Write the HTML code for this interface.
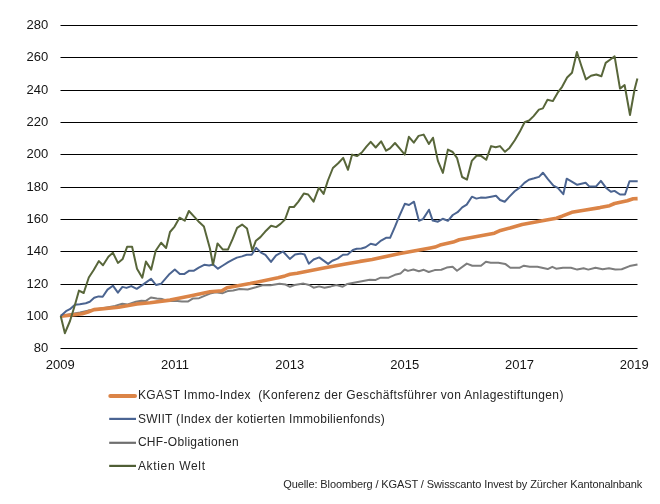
<!DOCTYPE html>
<html><head><meta charset="utf-8"><style>
html,body{margin:0;padding:0;background:#fff;width:660px;height:504px;overflow:hidden}
svg{display:block;will-change:transform}
text{font-family:"Liberation Sans",sans-serif;fill:#262626}
.ax{font-size:13px;fill:#141414}
.lg{font-size:12px}
.src{font-size:11px}
</style></head><body>
<svg width="660" height="504" viewBox="0 0 660 504">
<rect width="660" height="504" fill="#fff"/>
<rect x="60.5" y="25" width="577" height="1" fill="#000"/>
<rect x="60.5" y="57" width="577" height="1" fill="#000"/>
<rect x="60.5" y="90" width="577" height="1" fill="#000"/>
<rect x="60.5" y="122" width="577" height="1" fill="#000"/>
<rect x="60.5" y="154" width="577" height="1" fill="#000"/>
<rect x="60.5" y="187" width="577" height="1" fill="#000"/>
<rect x="60.5" y="219" width="577" height="1" fill="#000"/>
<rect x="60.5" y="251" width="577" height="1" fill="#000"/>
<rect x="60.5" y="284" width="577" height="1" fill="#000"/>
<rect x="60.5" y="316" width="577" height="1" fill="#000"/>
<rect x="60.5" y="348" width="577" height="1" fill="#000"/>
<text x="48.3" y="29.0" text-anchor="end" class="ax">280</text>
<text x="48.3" y="61.0" text-anchor="end" class="ax">260</text>
<text x="48.3" y="94.0" text-anchor="end" class="ax">240</text>
<text x="48.3" y="126.0" text-anchor="end" class="ax">220</text>
<text x="48.3" y="158.0" text-anchor="end" class="ax">200</text>
<text x="48.3" y="191.0" text-anchor="end" class="ax">180</text>
<text x="48.3" y="223.0" text-anchor="end" class="ax">160</text>
<text x="48.3" y="255.0" text-anchor="end" class="ax">140</text>
<text x="48.3" y="288.0" text-anchor="end" class="ax">120</text>
<text x="48.3" y="320.0" text-anchor="end" class="ax">100</text>
<text x="48.3" y="352.0" text-anchor="end" class="ax">80</text>
<text x="60.2" y="369" text-anchor="middle" class="ax">2009</text>
<text x="175.0" y="369" text-anchor="middle" class="ax">2011</text>
<text x="289.8" y="369" text-anchor="middle" class="ax">2013</text>
<text x="404.7" y="369" text-anchor="middle" class="ax">2015</text>
<text x="519.5" y="369" text-anchor="middle" class="ax">2017</text>
<text x="634.3" y="369" text-anchor="middle" class="ax">2019</text>
<polyline points="60.7,316.0 70.0,314.2 80.0,312.5 88.0,310.6 98.0,309.0 107.0,307.4 115.0,305.9 122.3,303.8 127.7,304.4 135.9,301.8 141.4,300.7 145.9,300.9 150.9,297.5 156.8,298.6 162.3,299.1 169.5,301.1 175.0,300.8 181.8,301.4 188.2,301.4 192.7,298.6 199.1,298.2 204.5,295.9 210.0,293.6 215.5,292.3 222.7,293.2 228.2,290.9 233.2,290.5 239.5,289.1 247.7,289.5 255.9,287.3 263.2,285.0 270.5,285.3 279.5,283.8 285.5,284.5 290.0,286.8 294.5,285.0 303.6,283.6 309.1,285.0 313.6,287.7 319.1,286.4 324.5,287.7 330.9,286.4 336.4,285.0 342.7,286.7 347.4,283.9 353.8,282.7 361.8,281.2 369.7,279.7 375.7,279.9 380.6,277.7 388.6,277.7 395.0,274.8 400.4,273.6 404.7,269.5 408.0,270.9 413.4,269.5 418.9,271.2 423.8,269.8 428.7,272.0 434.7,270.1 441.3,269.8 446.7,267.6 452.6,266.7 457.0,270.7 466.8,263.6 472.3,265.8 481.0,265.8 485.9,261.7 490.8,262.7 498.4,262.7 505.2,263.9 510.3,267.8 519.4,267.8 523.9,265.7 529.7,266.8 537.4,266.8 547.7,269.1 552.3,266.8 556.1,268.7 562.9,267.7 570.9,267.7 577.2,269.6 583.6,268.3 588.3,269.6 595.5,267.7 602.6,269.3 609.0,268.3 615.3,269.6 621.7,269.3 629.6,266.1 637.5,264.5" fill="none" stroke="#7D7D7D" stroke-width="2" stroke-linejoin="round"/>
<polyline points="60.8,316.1 70.0,315.2 82.2,313.8 88.0,312.0 94.0,309.6 118.6,307.2 137.0,303.9 150.0,302.8 170.0,300.1 190.0,296.0 210.0,291.7 222.0,290.8 227.0,287.7 250.0,283.6 278.0,277.8 285.0,275.9 290.0,274.3 297.1,273.2 325.0,267.8 345.6,264.1 360.0,261.4 372.1,259.5 400.0,253.4 430.3,248.0 435.0,247.1 440.0,245.1 453.2,242.1 459.2,239.8 494.4,233.2 500.5,230.4 510.0,228.0 522.1,224.4 546.4,220.0 556.4,218.2 562.0,216.2 571.8,212.3 585.5,210.0 600.0,207.6 609.6,205.7 614.5,203.5 627.3,200.8 633.2,198.8 637.6,198.6" fill="none" stroke="#DB8447" stroke-width="3.6" stroke-linejoin="round" stroke-linecap="butt"/>
<polyline points="60.7,315.9 66.0,311.2 69.9,309.2 74.9,304.7 79.8,304.2 85.8,303.2 89.8,301.7 94.2,297.8 98.6,296.4 102.7,296.8 107.5,289.6 112.9,285.7 117.9,292.6 122.4,286.9 126.5,287.9 131.3,286.1 136.7,288.8 142.6,284.9 146.8,281.9 151.1,278.8 156.0,285.0 161.0,283.8 165.5,278.7 169.6,273.9 174.8,269.5 179.8,273.9 184.5,273.9 189.3,270.7 194.0,270.7 198.8,267.6 204.2,264.8 209.2,265.5 213.1,264.5 217.9,268.7 222.9,265.5 228.2,262.1 232.4,259.8 236.9,257.6 241.9,256.4 246.7,254.8 251.7,254.8 256.2,247.9 261.0,252.6 265.4,254.8 271.0,261.9 276.1,255.4 283.0,251.5 289.8,258.9 295.1,254.5 301.1,253.6 304.6,254.5 308.8,263.7 313.6,259.5 319.2,257.4 323.3,260.4 328.1,263.9 332.3,260.7 337.6,258.6 343.0,254.8 347.7,254.4 352.9,250.0 356.7,248.8 361.4,248.5 365.6,247.3 370.7,243.7 375.8,245.0 381.1,240.6 386.0,237.8 390.1,237.8 395.0,226.7 399.2,216.3 404.8,203.8 409.0,205.0 414.0,201.7 418.9,220.7 423.0,219.1 429.0,209.7 432.7,220.6 437.9,221.7 442.7,218.8 447.9,220.8 452.8,215.0 457.6,212.2 462.2,207.4 466.7,204.6 471.9,196.7 476.4,198.6 480.6,197.6 485.6,197.8 491.1,196.8 496.0,195.8 500.1,200.0 504.7,201.7 509.9,196.1 514.7,191.3 520.3,187.1 524.4,182.9 528.9,179.7 534.2,178.3 539.0,176.9 542.9,172.7 547.9,179.2 553.4,185.6 557.8,187.8 563.3,194.2 566.7,178.7 572.2,181.8 577.2,184.8 581.4,183.8 585.6,182.8 589.5,186.6 595.9,186.6 600.9,180.9 605.9,187.7 610.9,191.8 614.5,190.9 620.0,194.5 625.0,194.5 629.5,181.2 633.5,181.2 637.7,181.2" fill="none" stroke="#4B6490" stroke-width="2.0" stroke-linejoin="round"/>
<polyline points="60.7,316.0 64.9,333.2 70.0,321.0 74.9,305.0 79.0,290.6 83.7,293.0 88.8,277.5 93.7,270.0 98.9,261.1 103.0,265.2 108.4,256.8 112.9,252.7 117.9,262.9 122.7,258.9 127.1,246.8 132.1,246.8 137.0,268.8 142.3,277.7 145.9,261.6 151.2,269.6 155.7,250.7 161.1,242.7 166.1,248.0 170.0,232.0 174.6,226.6 179.5,217.7 184.8,220.7 188.9,211.0 194.6,217.1 199.1,222.1 203.9,226.6 210.0,248.8 213.0,264.8 217.5,243.4 222.9,249.6 227.9,249.6 232.7,238.9 237.1,227.9 242.1,224.6 247.0,228.6 252.3,250.5 255.9,240.7 260.4,237.1 265.0,231.8 271.1,225.7 276.1,227.1 280.5,223.9 285.0,219.5 289.5,207.0 293.9,207.0 298.4,201.6 303.8,193.6 308.2,194.5 313.6,201.6 318.9,187.7 323.6,193.9 327.9,180.5 332.9,168.0 338.2,163.2 343.2,157.9 348.0,169.8 352.1,154.6 357.0,156.1 361.8,152.5 366.4,146.6 370.7,141.8 375.7,147.5 381.1,141.3 386.1,150.7 390.0,148.4 395.0,143.0 400.0,148.9 404.8,154.6 408.9,136.8 413.8,142.7 418.6,135.9 423.6,134.6 428.9,143.9 433.0,137.7 437.9,160.9 442.9,172.9 447.9,149.6 452.7,152.0 457.1,158.2 462.1,177.0 467.0,179.6 471.8,160.9 476.8,155.5 481.3,156.1 486.2,159.8 491.1,146.1 495.7,147.3 500.0,146.1 505.0,151.8 509.5,147.9 514.8,140.2 519.6,132.1 524.6,122.3 529.1,120.5 533.6,116.1 538.9,109.6 542.9,108.4 547.5,99.8 552.9,101.1 557.7,92.7 562.1,86.8 567.1,77.5 572.0,72.7 576.9,52.0 581.4,66.0 585.9,79.4 591.0,75.8 596.3,74.5 601.4,76.3 605.7,62.9 610.0,59.7 614.6,56.4 620.0,88.6 624.6,85.0 630.0,115.0 634.6,89.3 637.4,78.6" fill="none" stroke="#58663A" stroke-width="2.0" stroke-linejoin="round"/>
<line x1="110.3" y1="395.9" x2="135.0" y2="395.9" stroke="#DB8447" stroke-width="4" stroke-linecap="round"/>
<text x="137.9" y="399.2" class="lg" textLength="425.5" lengthAdjust="spacing">KGAST Immo-Index&#160; (Konferenz der Geschäftsführer von Anlagestiftungen)</text>
<line x1="109.2" y1="418.9" x2="136.0" y2="418.9" stroke="#4A6493" stroke-width="2.2" stroke-linecap="butt"/>
<text x="137.9" y="422.9" class="lg" textLength="246.9" lengthAdjust="spacing">SWIIT (Index der kotierten Immobilienfonds)</text>
<line x1="109.2" y1="442.8" x2="136.0" y2="442.8" stroke="#6F6F6F" stroke-width="2.2" stroke-linecap="butt"/>
<text x="137.9" y="445.9" class="lg" textLength="100.7" lengthAdjust="spacing">CHF-Obligationen</text>
<line x1="109.2" y1="465.9" x2="136.0" y2="465.9" stroke="#4F5E35" stroke-width="2.2" stroke-linecap="butt"/>
<text x="137.9" y="469.6" class="lg" textLength="67.1" lengthAdjust="spacing">Aktien Welt</text>
<text x="283.3" y="488.1" class="src" textLength="359" lengthAdjust="spacing">Quelle: Bloomberg / KGAST / Swisscanto Invest by Zürcher Kantonalnbank</text>
</svg>
</body></html>
